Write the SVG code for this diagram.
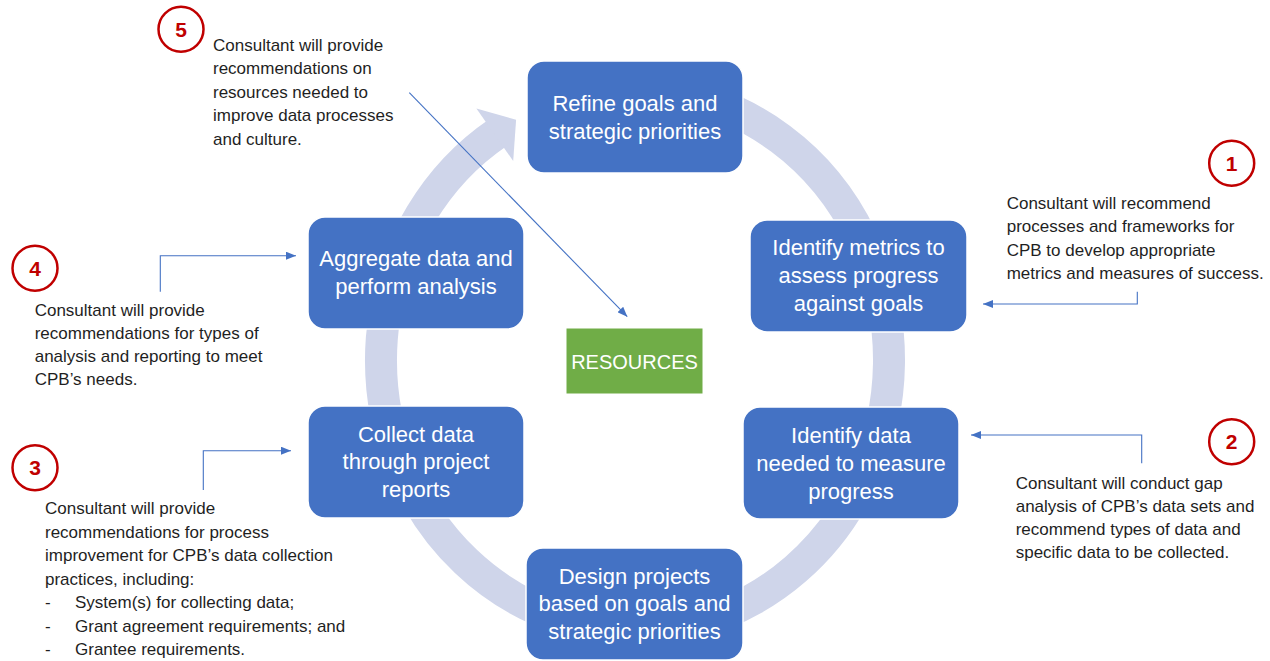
<svg xmlns="http://www.w3.org/2000/svg" width="1270" height="661" viewBox="0 0 1270 661">
  <style>
    .box { fill: #4472C4; stroke: #ffffff; stroke-width: 1.5; }
    .res { fill: #70AD47; stroke: #ffffff; stroke-width: 1; }
    .btxt { font-family: "Liberation Sans", Arial, sans-serif; font-size: 22px; fill: #ffffff; text-anchor: middle; }
    .rtxt { font-family: "Liberation Sans", Arial, sans-serif; font-size: 20px; fill: #ffffff; text-anchor: middle; }
    .note { font-family: "Liberation Sans", Arial, sans-serif; font-size: 17px; fill: #1f1f1f; }
    .badge { fill: #ffffff; stroke: #C00000; stroke-width: 2.5; }
    .num { font-family: "Liberation Sans", Arial, sans-serif; font-size: 21px; font-weight: bold; fill: #C00000; text-anchor: middle; }
    .link { fill: none; stroke: #4472C4; stroke-width: 1.1; marker-end: url(#tip); }
  </style>
  <defs>
    <marker id="tip" viewBox="0 0 10 8" refX="10" refY="4" markerWidth="10" markerHeight="8" markerUnits="userSpaceOnUse" orient="auto">
      <path d="M0,0 L10,4 L0,8 Z" fill="#4472C4"/>
    </marker>
  </defs>

  <rect width="1270" height="661" fill="#ffffff"/>

  <!-- cycle ring with arrowhead -->
  <g id="cycle-ring">
    <path d="M679.1,94.1 A254,270 0 1 1 498.5,132.3" fill="none" stroke="#CFD5EA" stroke-width="32"/>
    <polygon points="476.4,108.6 516.1,119.8 513.2,161.0" fill="#CFD5EA"/>
  </g>

  <!-- connectors -->
  <g id="connectors">
    <path class="link" d="M409.3,92.7 L627.3,316.7"/>
    <path class="link" d="M1137.3,291.7 V304 H983"/>
    <path class="link" d="M1141.7,463.3 V435 H971"/>
    <path class="link" d="M203.3,490 V450.7 H291"/>
    <path class="link" d="M160.3,291.7 V255.7 H296"/>
  </g>

  <!-- cycle steps -->
  <g id="node-refine">
    <rect class="box" x="527" y="61" width="216" height="112" rx="17"/>
    <text class="btxt" x="635" y="111">Refine goals and</text>
    <text class="btxt" x="635" y="139">strategic priorities</text>
  </g>
  <g id="node-metrics">
    <rect class="box" x="750" y="220" width="217" height="112" rx="17"/>
    <text class="btxt" x="858.5" y="255">Identify metrics to</text>
    <text class="btxt" x="858.5" y="283">assess progress</text>
    <text class="btxt" x="858.5" y="311">against goals</text>
  </g>
  <g id="node-data-needed">
    <rect class="box" x="743" y="407" width="216" height="112" rx="17"/>
    <text class="btxt" x="851" y="443">Identify data</text>
    <text class="btxt" x="851" y="471">needed to measure</text>
    <text class="btxt" x="851" y="499">progress</text>
  </g>
  <g id="node-design">
    <rect class="box" x="526" y="548" width="217" height="112" rx="17"/>
    <text class="btxt" x="634.5" y="583.5">Design projects</text>
    <text class="btxt" x="634.5" y="611">based on goals and</text>
    <text class="btxt" x="634.5" y="638.5">strategic priorities</text>
  </g>
  <g id="node-collect">
    <rect class="box" x="308" y="406" width="216" height="112" rx="17"/>
    <text class="btxt" x="416" y="441.5">Collect data</text>
    <text class="btxt" x="416" y="469">through project</text>
    <text class="btxt" x="416" y="496.5">reports</text>
  </g>
  <g id="node-aggregate">
    <rect class="box" x="308" y="217" width="216" height="112" rx="17"/>
    <text class="btxt" x="416" y="266">Aggregate data and</text>
    <text class="btxt" x="416" y="294">perform analysis</text>
  </g>
  <g id="node-resources">
    <rect class="res" x="566" y="328" width="137" height="66"/>
    <text class="rtxt" x="634.5" y="368.5">RESOURCES</text>
  </g>

  <!-- consultant notes -->
  <g id="note-1">
    <circle class="badge" cx="1231.7" cy="163.3" r="22.5"/>
    <text class="num" x="1231.7" y="170.8">1</text>
    <text class="note" x="1006.7" y="209">Consultant will recommend</text>
    <text class="note" x="1006.7" y="232.3">processes and frameworks for</text>
    <text class="note" x="1006.7" y="255.6">CPB to develop appropriate</text>
    <text class="note" x="1006.7" y="278.9">metrics and measures of success.</text>
  </g>
  <g id="note-2">
    <circle class="badge" cx="1231.7" cy="441.7" r="22.5"/>
    <text class="num" x="1231.7" y="449.2">2</text>
    <text class="note" x="1015.7" y="488.5">Consultant will conduct gap</text>
    <text class="note" x="1015.7" y="511.8">analysis of CPB’s data sets and</text>
    <text class="note" x="1015.7" y="535.1">recommend types of data and</text>
    <text class="note" x="1015.7" y="558.4">specific data to be collected.</text>
  </g>
  <g id="note-3">
    <circle class="badge" cx="35" cy="467.7" r="22.5"/>
    <text class="num" x="35" y="475.2">3</text>
    <text class="note" x="45" y="514">Consultant will provide</text>
    <text class="note" x="45" y="537.5">recommendations for process</text>
    <text class="note" x="45" y="561">improvement for CPB’s data collection</text>
    <text class="note" x="45" y="584.5">practices, including:</text>
    <text class="note" y="608"><tspan x="45">-</tspan><tspan x="75">System(s) for collecting data;</tspan></text>
    <text class="note" y="631.5"><tspan x="45">-</tspan><tspan x="75">Grant agreement requirements; and</tspan></text>
    <text class="note" y="655"><tspan x="45">-</tspan><tspan x="75">Grantee requirements.</tspan></text>
  </g>
  <g id="note-4">
    <circle class="badge" cx="35" cy="268.3" r="22.5"/>
    <text class="num" x="35" y="275.8">4</text>
    <text class="note" x="34.7" y="315.5">Consultant will provide</text>
    <text class="note" x="34.7" y="338.8">recommendations for types of</text>
    <text class="note" x="34.7" y="362.1">analysis and reporting to meet</text>
    <text class="note" x="34.7" y="385.4">CPB’s needs.</text>
  </g>
  <g id="note-5">
    <circle class="badge" cx="181" cy="29.3" r="22.5"/>
    <text class="num" x="181" y="36.8">5</text>
    <text class="note" x="213" y="50.7">Consultant will provide</text>
    <text class="note" x="213" y="74.2">recommendations on</text>
    <text class="note" x="213" y="97.7">resources needed to</text>
    <text class="note" x="213" y="121.2">improve data processes</text>
    <text class="note" x="213" y="144.7">and culture.</text>
  </g>
</svg>
